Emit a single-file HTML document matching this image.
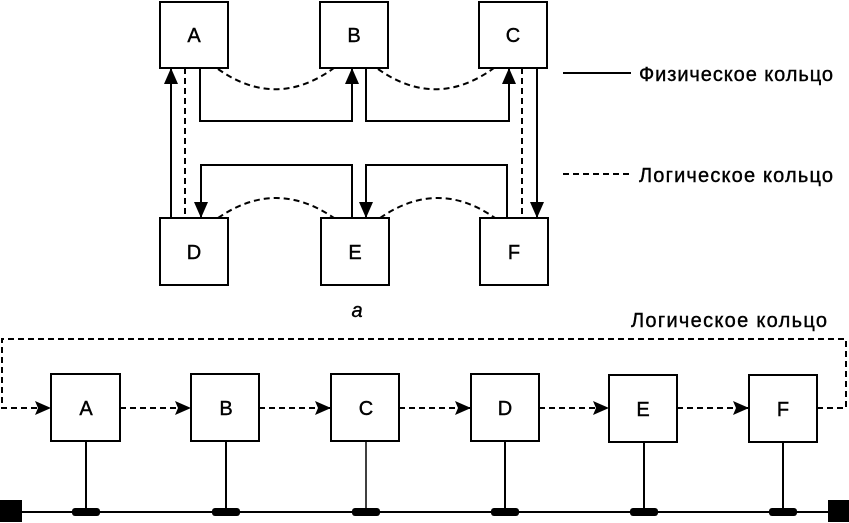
<!DOCTYPE html>
<html><head><meta charset="utf-8"><style>
html,body{margin:0;padding:0;background:#fff;}
svg{display:block;}
text{font-family:"Liberation Sans",sans-serif;fill:#000;stroke:#000;stroke-width:0.4;}
</style></head><body>
<svg width="849" height="523" viewBox="0 0 849 523" xmlns="http://www.w3.org/2000/svg">
<defs>
<marker id="ar" markerWidth="16" markerHeight="14" refX="15" refY="7" orient="auto" markerUnits="userSpaceOnUse" viewBox="0 0 16 14">
<path d="M0,0 L16,7 L0,14 L3,7 z" fill="#000"/></marker>
<marker id="ab" markerWidth="16" markerHeight="14" refX="15" refY="7" orient="auto" markerUnits="userSpaceOnUse" viewBox="0 0 16 14">
<path d="M0,0 L16,7 L0,14 z" fill="#000"/></marker>
</defs>
<g fill="none" stroke="#000" stroke-width="2">
<rect x="160" y="2" width="68" height="66"/>
<rect x="320" y="2" width="68" height="66"/>
<rect x="479" y="2" width="68" height="66"/>
<rect x="160" y="218" width="68" height="67"/>
<rect x="321" y="218" width="68" height="67"/>
<rect x="480" y="218" width="68" height="67"/>
<path d="M171,218 V69" marker-end="url(#ab)"/>
<path d="M200,68 V121 H352 V69" marker-end="url(#ab)"/>
<path d="M366,68 V121 H509 V69" marker-end="url(#ab)"/>
<path d="M537,68 V217" marker-end="url(#ab)"/>
<path d="M352,218 V165 H201 V217" marker-end="url(#ab)"/>
<path d="M507,218 V165 H366 V217" marker-end="url(#ab)"/>
</g>
<g fill="none" stroke="#000" stroke-width="2" stroke-dasharray="6,4">
<path d="M185,68 V218"/>
<path d="M522,68 V218"/>
<path d="M218,69 Q276,110 334,68"/>
<path d="M378,69 Q436,110 494,68"/>
<path d="M218,218 Q276,178 334,218"/>
<path d="M380,218 Q438,178 495,218"/>
<path d="M563,174 H630"/>
</g>
<line x1="563" y1="73" x2="631" y2="73" stroke="#000" stroke-width="2"/>
<g font-size="20" text-anchor="middle">
<text x="194" y="42">A</text><text x="354" y="42">B</text><text x="513" y="42">C</text>
<text x="194" y="259">D</text><text x="355" y="259">E</text><text x="514" y="259">F</text>
<text x="86" y="415">A</text><text x="226" y="415">B</text><text x="366" y="415">C</text>
<text x="505" y="415">D</text><text x="643" y="416">E</text><text x="783" y="416">F</text>
</g>
<text x="639" y="81" font-size="20" textLength="194">Физическое кольцо</text>
<text x="639" y="182" font-size="20" textLength="194">Логическое кольцо</text>
<text x="357" y="317" font-size="20" font-style="italic" text-anchor="middle">а</text>
<text x="631" y="327" font-size="20" textLength="196">Логическое кольцо</text>
<g fill="none" stroke="#000" stroke-width="2">
<rect x="51" y="374" width="69" height="67"/>
<rect x="191" y="374" width="68" height="67"/>
<rect x="331" y="374" width="68" height="67"/>
<rect x="471" y="374" width="68" height="67"/>
<rect x="609" y="375" width="68" height="67"/>
<rect x="749" y="375" width="68" height="67"/>
<line x1="10" y1="512" x2="838" y2="512"/>
<line x1="86" y1="441" x2="86" y2="512"/>
<line x1="226" y1="441" x2="226" y2="512"/>
<line x1="366" y1="441" x2="366" y2="512" stroke-width="1.5"/>
<line x1="505" y1="441" x2="505" y2="512"/>
<line x1="644" y1="442" x2="644" y2="512"/>
<line x1="783" y1="442" x2="783" y2="512"/>
</g>
<g fill="none" stroke="#000" stroke-width="2" stroke-dasharray="6,4">
<path d="M817,408 H846 V339 H2 V408 H50" marker-end="url(#ar)"/>
<path d="M120,408 H190" marker-end="url(#ar)"/>
<path d="M259,408 H330" marker-end="url(#ar)"/>
<path d="M399,408 H470" marker-end="url(#ar)"/>
<path d="M539,408 H608" marker-end="url(#ar)"/>
<path d="M677,408 H748" marker-end="url(#ar)"/>
</g>
<g fill="#000">
<rect x="0" y="500" width="22" height="22"/>
<rect x="828" y="500" width="21" height="22"/>
<rect x="72" y="508" width="28" height="8" rx="3"/>
<rect x="212" y="508" width="28" height="8" rx="3"/>
<rect x="352" y="508" width="28" height="8" rx="3"/>
<rect x="491" y="508" width="28" height="8" rx="3"/>
<rect x="630" y="508" width="28" height="8" rx="3"/>
<rect x="769" y="508" width="28" height="8" rx="3"/>
</g>
</svg>
</body></html>
